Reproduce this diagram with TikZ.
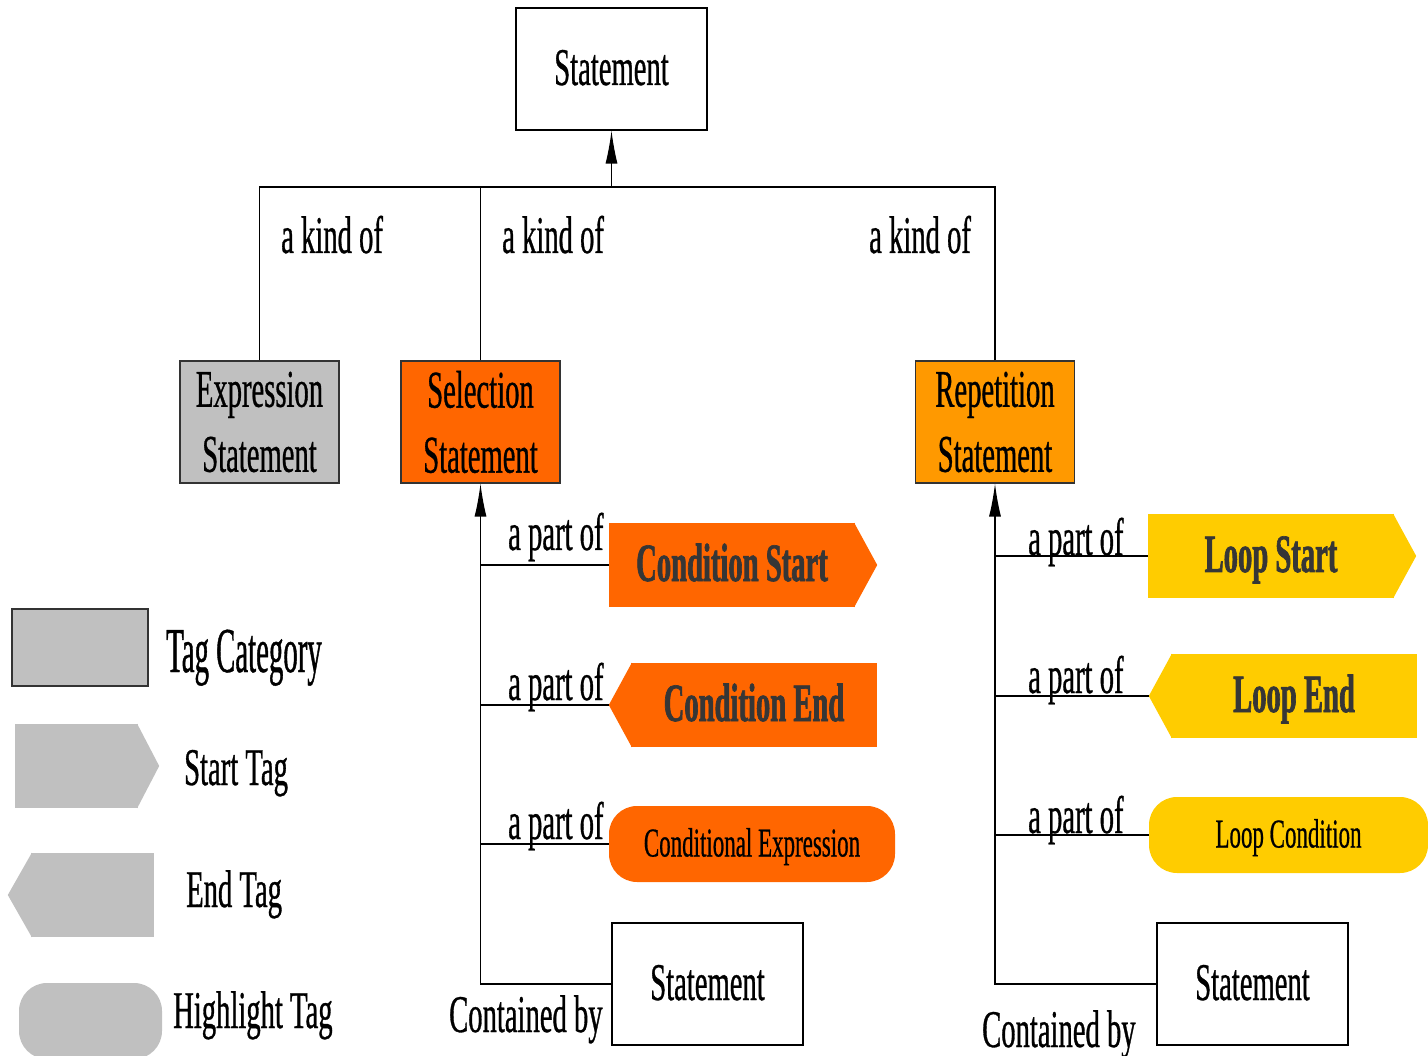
\documentclass[tikz,border=0pt]{standalone}
\usepackage{fontspec}
\setmainfont{Liberation Serif}
\newfontfamily\regf{Liberation Serif}[FakeStretch=0.54,FakeBold=0.6]
\newfontfamily\tagf{Liberation Serif}[FakeStretch=0.53,FakeBold=1.2]
\newfontfamily\smallf{Liberation Serif}[FakeStretch=0.56,FakeBold=0.5]
\newfontfamily\legf{Liberation Serif}[FakeStretch=0.45,FakeBold=0.6]
\usetikzlibrary{arrows.meta,calc}
\definecolor{catgray}{HTML}{C0C0C0}
\definecolor{selorange}{HTML}{FF6600}
\definecolor{reporange}{HTML}{FF9900}
\definecolor{loopyellow}{HTML}{FFCC00}
\definecolor{tagtext}{HTML}{363636}
\definecolor{edge}{HTML}{333333}
\begin{document}
\begin{tikzpicture}[x=1pt,y=-1pt,
  conn/.style={draw=black, line width=1.2pt},
  arr/.style={conn, -{Latex[length=33pt,width=12pt]}},
  stmtbox/.style={draw=black, line width=1.1pt, fill=white, minimum width=191pt,
    minimum height=122pt, inner sep=0pt, font=\regf\fontsize{53}{60}\selectfont,
    text height=32pt, text depth=0pt},
  catbox/.style={draw=edge, line width=1.2pt, fill=#1, minimum width=159pt,
    minimum height=122pt, inner sep=0pt, align=center,
    font=\regf\fontsize{53}{65}\selectfont},
  tagbody/.style={fill=#1, inner sep=0pt, minimum width=246pt, minimum height=84pt,
    font=\tagf\bfseries\fontsize{54}{60}\selectfont, text=tagtext,
    text height=32pt, text depth=0pt},
  hltag/.style={fill=#1, rounded corners=28pt, inner sep=0pt, minimum height=76pt,
    font=\smallf\fontsize{41}{48}\selectfont, text height=25pt, text depth=0pt},
  lbl/.style={anchor=base west, inner sep=0pt, font=\regf\fontsize{53}{60}\selectfont},
  leglbl/.style={anchor=base west, inner sep=0pt, font=\regf\fontsize{53}{60}\selectfont},
]
\useasboundingbox (0,0) rectangle (1428,1056);

% --- category hierarchy
\node[stmtbox] (top) at (611.5,69) {Statement};
\node[catbox=catgray] (expr) at (259.5,422) {Expression\\Statement};
\node[catbox=selorange] (sel) at (480.5,422) {Selection\\Statement};
\node[catbox=reporange] (rep) at (995,422) {Repetition\\Statement};
\coordinate (hub) at (611.5,187);

\draw[conn] (expr.north) |- (hub);
\draw[conn] (sel.north) |- (hub);
\draw[conn] (rep.north) |- (hub);
\draw[arr] (hub) -- (top.south);

\node[lbl] (k1) at (281,253) {a kind of};
\node[lbl] (k2) at (502,253) {a kind of};
\node[lbl] (k3) at (869,253) {a kind of};

% --- selection parts
\node[tagbody=selorange] (cs) at (732,565) {Condition Start};
\fill[selorange] ($(cs.north east)+(-1,0)$) -- ($(cs.east)+(22,0)$) -- ($(cs.south east)+(-1,0)$) -- cycle;
\node[tagbody=selorange] (ce) at (754,705) {Condition End};
\coordinate (ceTip) at ($(ce.west)+(-22,0)$);
\fill[selorange] ($(ce.north west)+(1,0)$) -- (ceTip) -- ($(ce.south west)+(1,0)$) -- cycle;
\node[hltag=selorange, minimum width=286pt] (cx) at (752,844) {Conditional Expression};
\node[stmtbox] (sb1) at (707.5,984) {Statement};

\draw[arr] (sb1.west) -| (sel.south);
\draw[conn] (sel.south |- cs.west) -- (cs.west);
\draw[conn] (sel.south |- ce.west) -- (ceTip);
\draw[conn] (sel.south |- cx.west) -- (cx.west);

\node[lbl] (p1) at (508,550) {a part of};
\node[lbl] (p2) at (508,700) {a part of};
\node[lbl] (p3) at (508,839) {a part of};
\node[lbl] (c1) at (449,1032) {Contained by};

% --- repetition parts
\node[tagbody=loopyellow] (ls) at (1271,556) {Loop Start};
\fill[loopyellow] ($(ls.north east)+(-1,0)$) -- ($(ls.east)+(22,0)$) -- ($(ls.south east)+(-1,0)$) -- cycle;
\node[tagbody=loopyellow] (le) at (1294,696) {Loop End};
\coordinate (leTip) at ($(le.west)+(-22,0)$);
\fill[loopyellow] ($(le.north west)+(1,0)$) -- (leTip) -- ($(le.south west)+(1,0)$) -- cycle;
\node[hltag=loopyellow, minimum width=279pt] (lc) at (1288.5,835) {Loop Condition};
\node[stmtbox] (sb2) at (1252.5,984) {Statement};

\draw[arr] (sb2.west) -| (rep.south);
\draw[conn] (rep.south |- ls.west) -- (ls.west);
\draw[conn] (rep.south |- le.west) -- (leTip);
\draw[conn] (rep.south |- lc.west) -- (lc.west);

\node[lbl] (q1) at (1028,555) {a part of};
\node[lbl] (q2) at (1028,693) {a part of};
\node[lbl] (q3) at (1028,833) {a part of};
\node[lbl] (c2) at (982,1047) {Contained by};

% --- legend
\node[draw=edge, line width=1.2pt, fill=catgray, minimum width=136pt,
  minimum height=77pt, inner sep=0pt] (lgcat) at (80,647.5) {};
\node[fill=catgray, inner sep=0pt, minimum width=123pt, minimum height=84pt] (lgstart) at (76.5,766) {};
\fill[catgray] ($(lgstart.north east)+(-1,0)$) -- ($(lgstart.east)+(21,0)$) -- ($(lgstart.south east)+(-1,0)$) -- cycle;
\node[fill=catgray, inner sep=0pt, minimum width=123pt, minimum height=84pt] (lgend) at (92.5,895) {};
\fill[catgray] ($(lgend.north west)+(1,0)$) -- ($(lgend.west)+(-23,0)$) -- ($(lgend.south west)+(1,0)$) -- cycle;
\node[fill=catgray, rounded corners=28pt, inner sep=0pt, minimum width=143pt, minimum height=76pt] (lghl) at (90.5,1021) {};

\node[leglbl, font=\legf\fontsize{64}{70}\selectfont] (t1) at (166,672) {Tag Category};
\node[leglbl] (t2) at (184,785) {Start Tag};
\node[leglbl] (t3) at (186,907) {End Tag};
\node[leglbl] (t4) at (173,1028) {Highlight Tag};
\end{tikzpicture}
\end{document}
